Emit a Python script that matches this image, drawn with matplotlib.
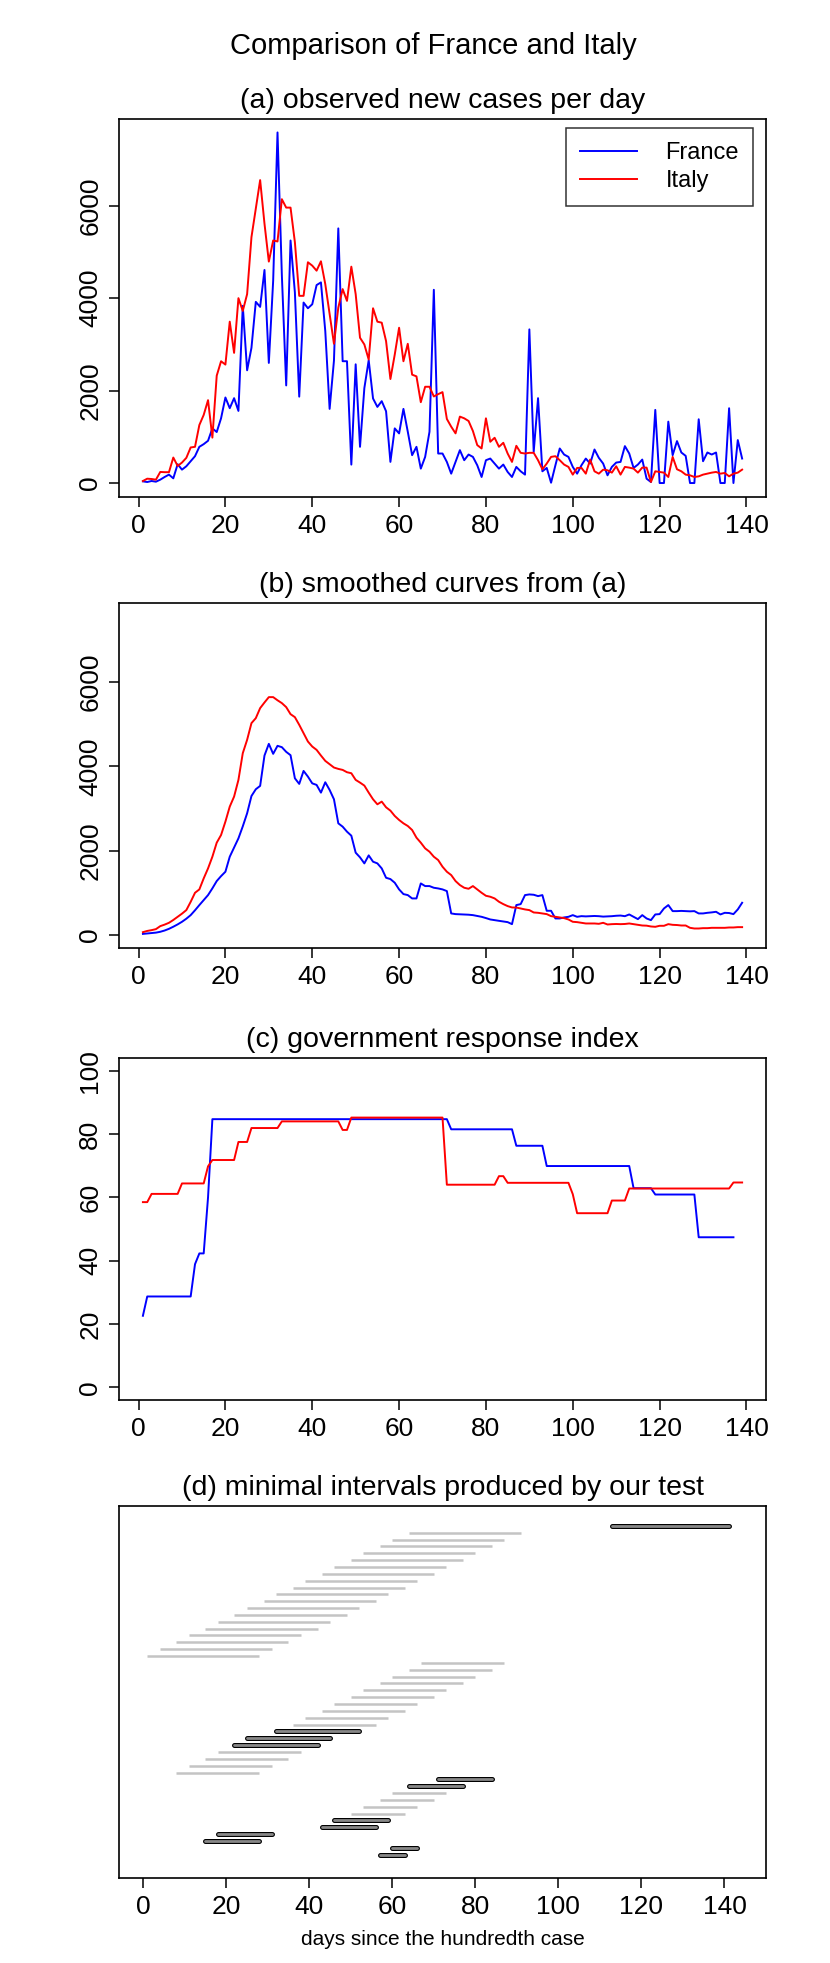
import matplotlib
matplotlib.use("Agg")
import matplotlib.pyplot as plt
import numpy as np

plt.rcParams["font.family"] = "Liberation Sans"

# (a) observed new cases per day, days 1..139
france_obs = [36, 22, 44, 29, 73, 131, 182, 102, 407, 290, 363, 472, 581, 784, 842, 915, 1184, 1104, 1402, 1852,
              1620, 1837, 1561, 3835, 2440, 2927, 3922, 3813, 4612, 2600, 4380, 7589, 4500, 2113, 5250, 4126, 1870, 3907, 3783, 3870,
              4285, 4343, 3290, 1605, 2650, 5512, 2637, 2637, 399, 2570, 784, 2055, 2658, 1830, 1648, 1772, 1554, 458, 1183, 1074,
              1605, 1111, 603, 784, 312, 566, 1110, 4183, 639, 639, 457, 203, 457, 712, 494, 617, 566, 385, 131, 494,
              530, 421, 312, 400, 240, 131, 349, 254, 182, 3326, 675, 1837, 254, 327, 7, 385, 748, 617, 566, 349,
              203, 385, 530, 421, 726, 545, 421, 167, 349, 443, 457, 799, 639, 327, 400, 508, 94, 22, 1583, 0,
              0, 1329, 603, 908, 661, 588, 0, 0, 1380, 472, 661, 617, 661, 0, 0, 1619, 0, 930, 530]
italy_obs = [44, 94, 87, 73, 240, 235, 235, 552, 370, 443, 545, 770, 784, 1256, 1474, 1794, 983, 2324, 2636, 2564,
             3493, 2818, 4002, 3725, 4089, 5323, 5940, 6558, 5614, 4793, 5251, 5229, 6144, 5962, 5962, 5214, 4052, 4052, 4779, 4706,
             4597, 4800, 4306, 3653, 3014, 3798, 4198, 3943, 4684, 4089, 3145, 2999, 2673, 3783, 3493, 3471, 3072, 2251, 2781, 3362,
             2636, 3014, 2346, 2309, 1750, 2084, 2084, 1874, 1924, 1968, 1387, 1220, 1075, 1438, 1401, 1343, 1126, 821, 748, 1401,
             893, 980, 784, 871, 639, 457, 806, 654, 639, 654, 654, 494, 298, 421, 566, 581, 494, 400, 349, 182,
             327, 327, 203, 508, 254, 203, 290, 276, 225, 363, 182, 349, 334, 312, 225, 334, 334, 22, 254, 240,
             225, 131, 566, 298, 254, 182, 167, 131, 145, 182, 203, 225, 240, 203, 218, 145, 203, 225, 290]

# (b) smoothed curves
france_smooth = [30, 40, 50, 60, 80, 110, 150, 200, 255, 317, 390, 475, 590, 713, 830, 950, 1110, 1283, 1400, 1504,
                 1860, 2080, 2296, 2580, 2890, 3300, 3460, 3540, 4260, 4537, 4300, 4490, 4458, 4347, 4268, 3720, 3587, 3895, 3760, 3600,
                 3563, 3380, 3626, 3444, 3222, 2652, 2573, 2454, 2359, 1956, 1845, 1702, 1892, 1742, 1702, 1583, 1361, 1330, 1243, 1085,
                 974, 950, 871, 871, 1227, 1164, 1164, 1124, 1108, 1085, 1045, 515, 499, 495, 491, 485, 475, 455, 435, 405,
                 372, 355, 340, 325, 309, 261, 713, 736, 950, 966, 958, 926, 950, 578, 578, 396, 396, 420, 435, 475,
                 435, 451, 445, 450, 455, 450, 440, 445, 450, 460, 465, 450, 491, 435, 380, 475, 396, 356, 491, 499,
                 633, 713, 570, 570, 575, 570, 565, 570, 515, 515, 530, 540, 554, 491, 530, 525, 499, 610, 768]
italy_smooth = [71, 100, 119, 143, 214, 250, 293, 360, 435, 510, 594, 790, 1005, 1085, 1346, 1583, 1860, 2193, 2375, 2692,
                3048, 3286, 3682, 4315, 4632, 5028, 5146, 5384, 5518, 5645, 5645, 5570, 5503, 5408, 5241, 5170, 4988, 4790, 4592, 4473,
                4394, 4260, 4133, 4054, 3975, 3943, 3919, 3864, 3840, 3682, 3618, 3547, 3380, 3222, 3103, 3167, 3032, 2953, 2827, 2732,
                2652, 2589, 2494, 2312, 2193, 2058, 1979, 1860, 1781, 1623, 1504, 1425, 1283, 1188, 1124, 1100, 1164, 1085, 1005, 934,
                911, 871, 792, 736, 689, 657, 655, 633, 610, 594, 538, 530, 515, 499, 451, 435, 420, 404, 372, 317,
                309, 293, 277, 277, 277, 269, 293, 253, 261, 265, 261, 265, 277, 261, 245, 229, 225, 206, 198, 222,
                222, 261, 245, 240, 229, 229, 174, 158, 158, 166, 166, 174, 174, 174, 174, 182, 182, 190, 190]

# (c) government response index, break points of the step curves
france_gri_days = [1, 2, 12, 13, 14, 15, 16, 17, 71, 72, 86, 87, 93, 94, 113, 114, 118, 119, 128, 129, 137]
france_gri_vals = [22.6, 28.7, 28.7, 38.9, 42.3, 42.3, 60.0, 84.7, 84.7, 81.5, 81.5, 76.3, 76.3, 69.9, 69.9, 62.9,
                   62.9, 60.9, 60.9, 47.4, 47.4]
italy_gri_days = [1, 2, 3, 9, 10, 15, 16, 17, 22, 23, 25, 26, 32, 33, 46, 47, 48, 49, 70, 71, 82, 83, 84, 85, 99,
                  100, 101, 108, 109, 112, 113, 136, 137, 139]
italy_gri_vals = [58.5, 58.5, 61.1, 61.1, 64.4, 64.4, 69.8, 71.8, 71.8, 77.5, 77.5, 81.9, 81.9, 84.0, 84.0, 81.3,
                  81.3, 85.2, 85.2, 64.0, 64.0, 66.7, 66.7, 64.6, 64.6, 61.0, 55.0, 55.0, 59.0, 59.0, 62.8, 62.8,
                  64.7, 64.7]

# (d) minimal intervals, listed from top row to bottom row
iv_start = [113, 64, 60, 57, 53, 50, 46, 43, 39, 36, 32, 29, 25, 22, 18, 15, 11, 8, 4, 1,
            67, 64, 60, 57, 53, 50, 46, 43, 39, 36,
            32, 25, 22, 18, 15, 11, 8,
            71, 64, 60, 57, 53, 50, 46, 43, 18, 15, 60, 57]
iv_end = [141, 91, 87, 84, 80, 77, 73, 70, 66, 63, 59, 56, 52, 49, 45, 42, 38, 35, 31, 28,
          87, 84, 80, 77, 73, 70, 66, 63, 59, 56,
          52, 45, 42, 38, 35, 31, 28,
          84, 77, 73, 70, 66, 63, 59, 56, 31, 28, 66, 63]
iv_minimal = [1, 0, 0, 0, 0, 0, 0, 0, 0, 0, 0, 0, 0, 0, 0, 0, 0, 0, 0, 0,
              0, 0, 0, 0, 0, 0, 0, 0, 0, 0,
              1, 1, 1, 0, 0, 0, 0,
              1, 1, 0, 0, 0, 0, 1, 1, 1, 1, 1, 1]

days_a = np.arange(1, len(france_obs) + 1)
days_b = np.arange(1, len(france_smooth) + 1)

fig = plt.figure(figsize=(8.3, 19.63), dpi=100)
L, W = 0.1434, 0.7795
ax_a = fig.add_axes([L, 0.7468, W, 0.1926])
ax_b = fig.add_axes([L, 0.5171, W, 0.1758])
ax_c = fig.add_axes([L, 0.2868, W, 0.1742])
ax_d = fig.add_axes([L, 0.0433, W, 0.1895])

fs = 19
tfs = 20.5
lw = 1.4


def style(ax):
    for s in ax.spines.values():
        s.set_linewidth(1.2)
    ax.tick_params(direction="out", length=7, width=1.1, labelsize=fs, pad=5)
    ax.set_xticks(range(0, 141, 20))


fig.text(0.522, 0.9766, "Comparison of France and Italy", ha="center", va="center", fontsize=21)

ax_a.plot(days_a, france_obs, color="blue", lw=lw, label="France")
ax_a.plot(days_a, italy_obs, color="red", lw=lw, label="Italy")
ax_a.set_xlim(-4.5, 144.5)
ax_a.set_ylim(-303, 7881)
ax_a.set_yticks([0, 2000, 4000, 6000])
ax_a.set_title("(a) observed new cases per day", fontsize=tfs, pad=8)
leg = ax_a.legend(loc="upper right", bbox_to_anchor=(0.98, 0.976), fancybox=False, edgecolor="black",
                  fontsize=17, handlelength=2.4, borderpad=0.6, labelspacing=0.25, handletextpad=1.2,
                  borderaxespad=0)
leg.get_frame().set_linewidth(1.1)

ax_b.plot(days_b, france_smooth, color="blue", lw=lw)
ax_b.plot(days_b, italy_smooth, color="red", lw=lw)
ax_b.set_xlim(-4.5, 144.5)
ax_b.set_ylim(-303, 7881)
ax_b.set_yticks([0, 2000, 4000, 6000])
ax_b.set_title("(b) smoothed curves from (a)", fontsize=tfs, pad=8)

ax_c.plot(france_gri_days, france_gri_vals, color="blue", lw=lw)
ax_c.plot(italy_gri_days, italy_gri_vals, color="red", lw=lw)
ax_c.set_xlim(-4.5, 144.5)
ax_c.set_ylim(-4, 104)
ax_c.set_yticks(range(0, 101, 20))
ax_c.set_title("(c) government response index", fontsize=tfs, pad=8)

for ax in (ax_a, ax_b, ax_c):
    style(ax)
    for t in ax.get_yticklabels():
        t.set_rotation(90)
        t.set_va("center")

n = len(iv_start)
rows = np.arange(n, 0, -1)
for s, e, m, r in zip(iv_start, iv_end, iv_minimal, rows):
    if m:
        ax_d.plot([s, e], [r, r], color="black", lw=3.6, solid_capstyle="round")
        ax_d.plot([s, e], [r, r], color="#888888", lw=2.0, solid_capstyle="round")
    else:
        ax_d.plot([s, e], [r, r], color="#c4c4c4", lw=1.8, solid_capstyle="butt")
ax_d.set_xlim(-5.8, 150)
ax_d.set_ylim(-2.4, 51.9)
style(ax_d)
ax_d.set_yticks([])
ax_d.set_title("(d) minimal intervals produced by our test", fontsize=tfs, pad=8)
ax_d.set_xlabel("days since the hundredth case", fontsize=15, labelpad=8)

fig.savefig("out.png", dpi=100)
